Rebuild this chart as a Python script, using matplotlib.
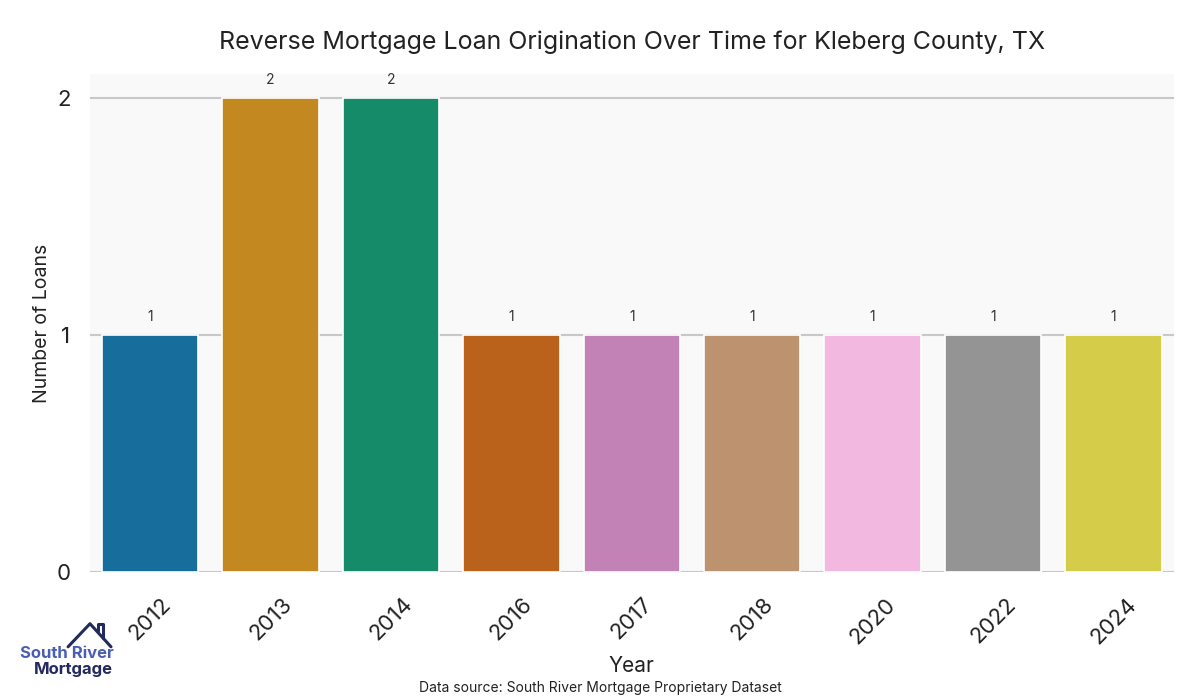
import matplotlib
matplotlib.use("Agg")
import matplotlib.pyplot as plt
import seaborn as sns
from matplotlib.lines import Line2D

# data
years = ["2012", "2013", "2014", "2016", "2017", "2018", "2020", "2022", "2024"]
loans = [1, 2, 2, 1, 1, 1, 1, 1, 1]

sns.set_style("whitegrid")
plt.rcParams['font.family'] = ['Inter', 'DejaVu Sans']

fig = plt.figure(figsize=(12, 7), dpi=100)
ax = fig.add_axes([0.075, 0.183, 0.903, 0.711])
ax.set_facecolor("#f9f9f9")

palette = sns.color_palette("colorblind", len(years))
sns.barplot(x=years, y=loans, hue=years, palette=palette, legend=False,
            ax=ax, width=0.8, edgecolor="white", linewidth=1.2, saturation=0.75)

for i, v in enumerate(loans):
    ax.annotate(str(v), (i, v), xytext=(0, 8), textcoords="offset points",
                ha="center", va="bottom", fontsize=10, color="#333333")

ax.set_xlim(-0.5, len(years) - 0.5)
ax.set_ylim(0, 2.1)
ax.set_yticks([0, 1, 2])
ax.grid(axis="y", color="#c8c8c8", linewidth=1.5)
ax.grid(axis="x", visible=False)
ax.set_axisbelow(True)
for s in ax.spines.values():
    s.set_visible(False)
ax.tick_params(axis="y", labelsize=16, colors="#222222", length=0, pad=14)
ax.tick_params(axis="x", labelsize=16, colors="#222222", length=0, pad=16)
plt.setp(ax.get_xticklabels(), rotation=45, ha="center", rotation_mode="default")

ax.set_xlabel("Year", fontsize=15, color="#222222", labelpad=6)
ax.set_ylabel("Number of Loans", fontsize=14, color="#222222")
ax.set_title("Reverse Mortgage Loan Origination Over Time for Kleberg County, TX",
             fontsize=18, color="#222222", pad=18)

fig.text(0.5, 0.017, "Data source: South River Mortgage Proprietary Dataset",
         ha="center", va="center", fontsize=10, color="#222222")

# logo
navy = "#232a5e"
fig.add_artist(Line2D([0.0567, 0.075, 0.0925], [0.076, 0.109, 0.076],
                      transform=fig.transFigure, color=navy, linewidth=2.2))
fig.add_artist(Line2D([0.0817, 0.0817, 0.0858, 0.0858], [0.099, 0.109, 0.109, 0.088],
                      transform=fig.transFigure, color=navy, linewidth=2.2))
fig.text(0.0558, 0.067, "South River", ha="center", va="center", fontsize=12,
         color="#4a5fb3", fontweight="bold")
fig.text(0.061, 0.044, "Mortgage", ha="center", va="center", fontsize=12,
         color=navy, fontweight="bold")

fig.savefig("out.png", dpi=100)
